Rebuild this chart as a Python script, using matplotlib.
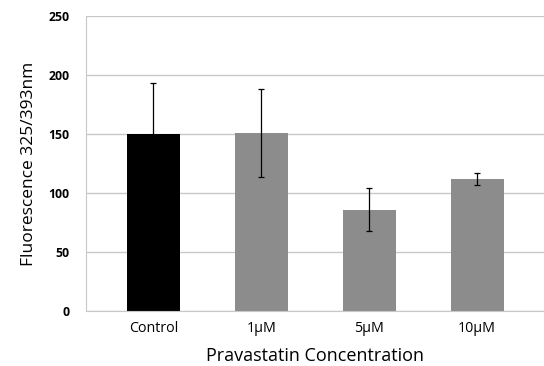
import matplotlib
matplotlib.use("Agg")
import matplotlib.pyplot as plt

categories = ["Control", "1\u00b5M", "5\u00b5M", "10\u00b5M"]
values = [150, 151, 86, 112]
errors = [43, 37, 18, 5]
bar_colors = ["#000000", "#8c8c8c", "#8c8c8c", "#8c8c8c"]

plt.rcParams['font.family'] = ['Open Sans', 'DejaVu Sans']

fig = plt.figure(figsize=(5.44, 3.66), dpi=100)
ax = fig.add_axes([0.158, 0.150, 0.842, 0.806])

x = list(range(len(categories)))
ax.bar(x, values, width=0.49, color=bar_colors, zorder=2)
ax.errorbar(x, values, yerr=errors, fmt='none', ecolor='#000000',
            elinewidth=0.9, capsize=2, capthick=0.9, zorder=3)

ax.set_ylim(0, 250)
ax.set_yticks([0, 50, 100, 150, 200, 250])
ax.set_xlim(-0.625, 3.62)
ax.set_xticks(x)
ax.set_xticklabels(categories, fontsize=10.3)
for lbl in ax.get_yticklabels():
    lbl.set_fontsize(8.8)
    lbl.set_fontweight('bold')

ax.yaxis.grid(True, color='#c8c8c8', linewidth=1.0, zorder=0)
ax.set_axisbelow(True)
ax.tick_params(axis='x', length=0, pad=7)
ax.tick_params(axis='y', length=0, pad=12)
for s in ['top', 'right']:
    ax.spines[s].set_visible(False)
ax.spines['left'].set_color('#c8c8c8')
ax.spines['bottom'].set_color('#c8c8c8')

ax.set_xlabel("Pravastatin Concentration", fontsize=13, labelpad=8)
ax.set_ylabel("Fluorescence 325/393nm", fontsize=12.5, labelpad=8)

fig.savefig("out.png", dpi=100)
